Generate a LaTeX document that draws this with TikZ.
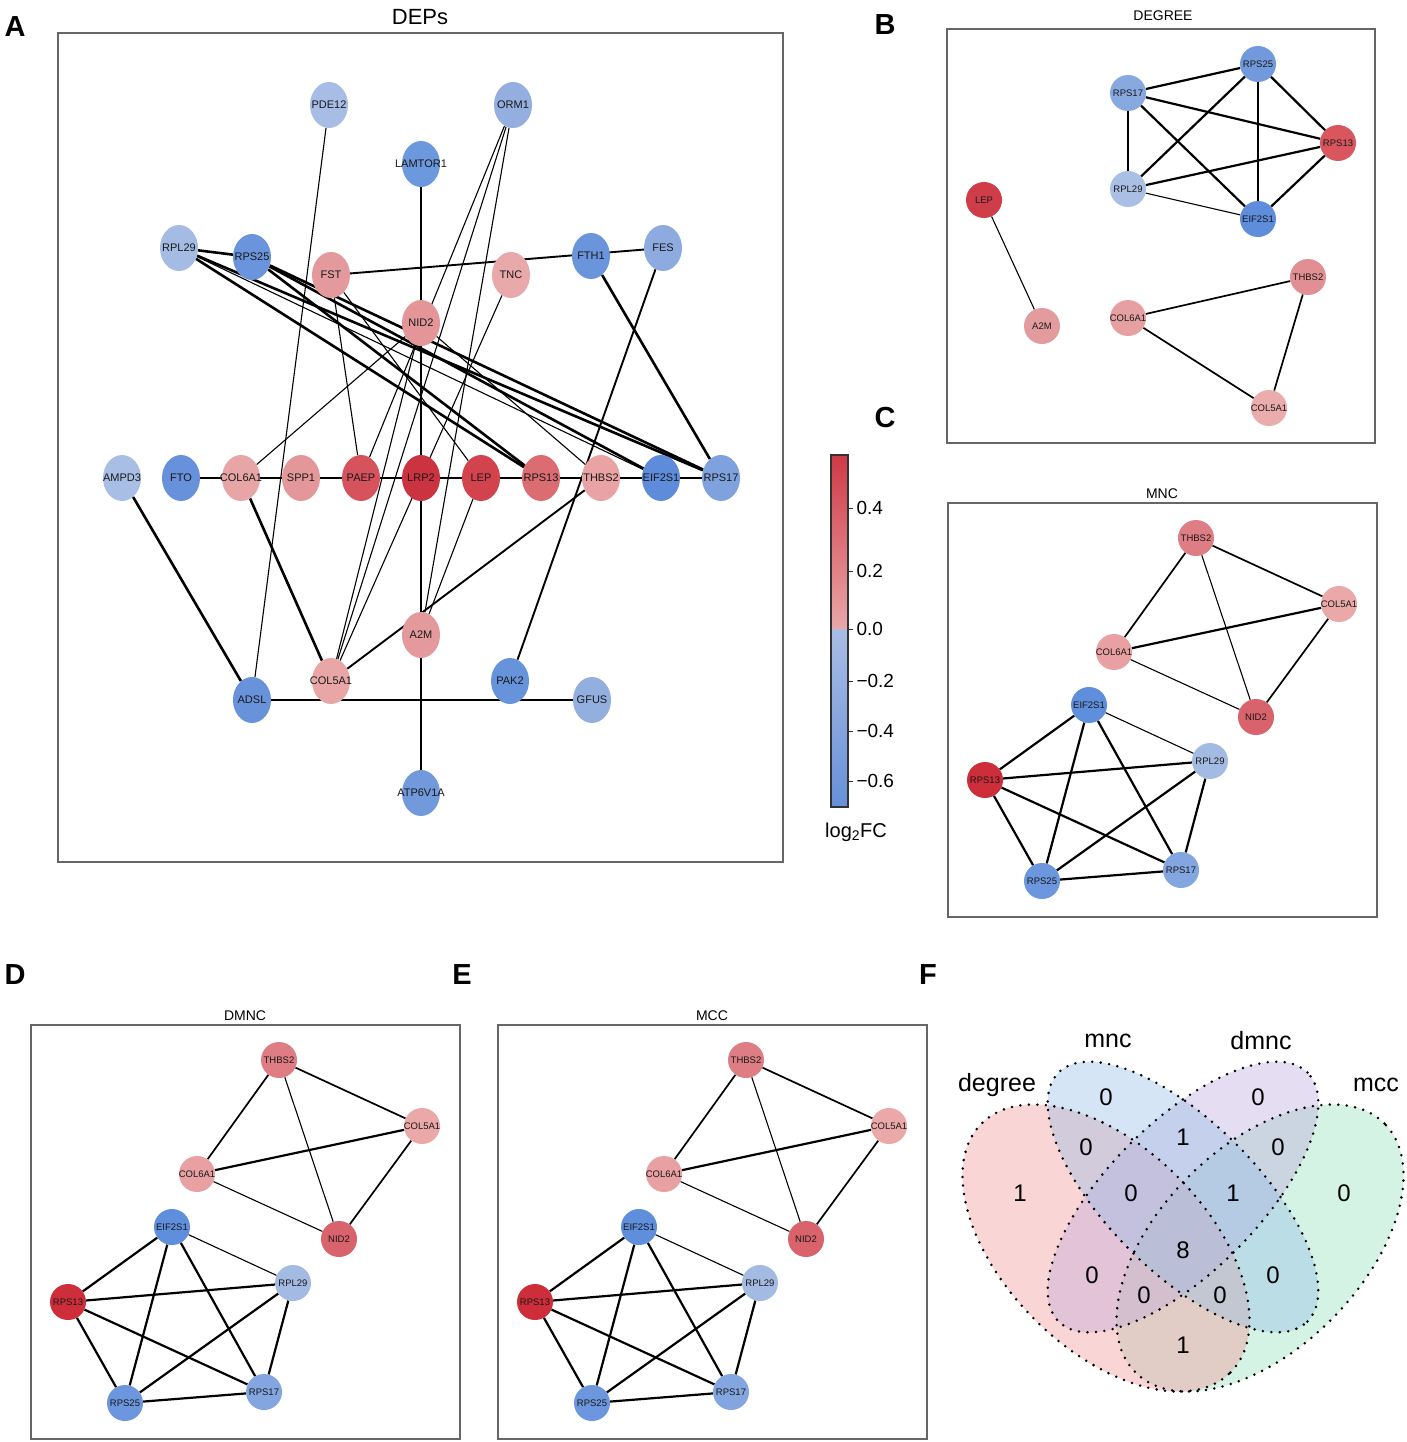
\documentclass[tikz,border=0pt]{standalone}
\usepackage{fontspec}
\setmainfont{Liberation Sans}
\usetikzlibrary{shapes.geometric,backgrounds}
% panel A colours
\definecolor{cPDE}{HTML}{A7BDE5}
\definecolor{cORM}{HTML}{93AEDF}
\definecolor{cLAM}{HTML}{6C98DD}
\definecolor{cRPL}{HTML}{A4BBE3}
\definecolor{cRPSb}{HTML}{6A95DC}
\definecolor{cFST}{HTML}{E49A9D}
\definecolor{cTNC}{HTML}{E9A9AA}
\definecolor{cFTH}{HTML}{6A95DD}
\definecolor{cFES}{HTML}{8EABDF}
\definecolor{cNID}{HTML}{E39598}
\definecolor{cAMP}{HTML}{A9BEE4}
\definecolor{cFTO}{HTML}{6791DA}
\definecolor{cC6}{HTML}{E8A5A6}
\definecolor{cSPP}{HTML}{E49799}
\definecolor{cPAE}{HTML}{D6525C}
\definecolor{cLRP}{HTML}{CC3340}
\definecolor{cLEP}{HTML}{D2434D}
\definecolor{cR13}{HTML}{DA6C72}
\definecolor{cTHB}{HTML}{E9A3A4}
\definecolor{cEIF}{HTML}{5E8CDA}
\definecolor{cR17}{HTML}{7FA2DE}
\definecolor{cA2M}{HTML}{E49A9C}
\definecolor{cC5}{HTML}{E9A6A7}
\definecolor{cADS}{HTML}{6893DB}
\definecolor{cPAK}{HTML}{6793DB}
\definecolor{cGFU}{HTML}{93AFE0}
\definecolor{cATP}{HTML}{7299DC}
% panel B colours
\definecolor{bR25}{HTML}{7199DC}
\definecolor{bR17}{HTML}{88A9E0}
\definecolor{bRPL}{HTML}{A9BFE4}
\definecolor{bEIF}{HTML}{5E8DDB}
\definecolor{bR13}{HTML}{D9565F}
\definecolor{bLEP}{HTML}{CF3E48}
\definecolor{bA2M}{HTML}{E39C9E}
\definecolor{bC6}{HTML}{E6A0A2}
\definecolor{bTHB}{HTML}{E28F93}
\definecolor{bC5}{HTML}{EBACAD}
% panels C-E colours
\definecolor{dR13}{HTML}{CD2E3A}
\definecolor{dEIF}{HTML}{5F8FDC}
\definecolor{dRPL}{HTML}{A3BAE2}
\definecolor{dR17}{HTML}{83A5E0}
\definecolor{dR25}{HTML}{6C96DD}
\definecolor{dNID}{HTML}{D9636C}
\definecolor{dTHB}{HTML}{DE7D83}
\definecolor{dC5}{HTML}{EBA8A9}
\definecolor{dC6}{HTML}{E8A0A2}
% colour bar
\definecolor{cbTop}{HTML}{CF3A46}
\definecolor{cbPink}{HTML}{EAA7A9}
\definecolor{cbLBlue}{HTML}{A9BDE3}
\definecolor{cbBot}{HTML}{6690DA}
% venn
\definecolor{vDeg}{RGB}{243,150,152}
\definecolor{vMnc}{RGB}{150,190,230}
\definecolor{vDmn}{RGB}{190,170,220}
\definecolor{vMcc}{RGB}{150,225,190}

\newcommand\zw[1]{\makebox[0pt]{#1}}

\newcommand\mncnet[4]{%
\begin{scope}[shift={(#2,#3)}]
\draw[panel] (0,0) rectangle (429,414);
\node[ptitle] (#1title) at (214,-9) {#4};
\node[nS,fill=dTHB] (#1THBS2) at (248,35) {\zw{THBS2}};
\node[nS,fill=dC5] (#1COL5A1) at (391,101) {\zw{COL5A1}};
\node[nS,fill=dC6] (#1COL6A1) at (166,149) {\zw{COL6A1}};
\node[nS,fill=dNID] (#1NID2) at (308,214) {\zw{NID2}};
\node[nS,fill=dEIF] (#1EIF2S1) at (141,202) {\zw{EIF2S1}};
\node[nS,fill=dRPL] (#1RPL29) at (262,258) {\zw{RPL29}};
\node[nS,fill=dR13] (#1RPS13) at (37,277) {\zw{RPS13}};
\node[nS,fill=dR17] (#1RPS17) at (233,367) {\zw{RPS17}};
\node[nS,fill=dR25] (#1RPS25) at (94,378) {\zw{RPS25}};
\end{scope}
\begin{scope}[on background layer]
\draw[smd] (#1THBS2) -- (#1COL6A1);
\draw[smd] (#1THBS2) -- (#1COL5A1);
\draw[stn] (#1THBS2) -- (#1NID2);
\draw[stk] (#1COL6A1) -- (#1COL5A1);
\draw[stn] (#1COL6A1) -- (#1NID2);
\draw[smd] (#1COL5A1) -- (#1NID2);
\draw[stk] (#1EIF2S1) -- (#1RPS13);
\draw[stk] (#1EIF2S1) -- (#1RPS25);
\draw[stk] (#1EIF2S1) -- (#1RPS17);
\draw[stn] (#1EIF2S1) -- (#1RPL29);
\draw[stk] (#1RPS13) -- (#1RPL29);
\draw[stk] (#1RPS13) -- (#1RPS25);
\draw[stk] (#1RPS13) -- (#1RPS17);
\draw[stk] (#1RPL29) -- (#1RPS25);
\draw[stk] (#1RPL29) -- (#1RPS17);
\draw[stk] (#1RPS25) -- (#1RPS17);
\end{scope}}

\begin{document}
\begin{tikzpicture}[x=1pt,y=-1pt,
  nA/.style={ellipse,minimum width=38pt,minimum height=46pt,inner sep=0pt,
    text=black!90,font=\fontsize{11}{11}\selectfont},
  nS/.style={circle,minimum size=36pt,inner sep=0pt,text=black!90,
    font=\fontsize{9.5}{9.5}\selectfont},
  tk/.style={line width=2.6pt},
  md/.style={line width=1.9pt},
  tn/.style={line width=1.1pt},
  stk/.style={line width=2.2pt},
  smd/.style={line width=1.7pt},
  stn/.style={line width=1.1pt},
  panel/.style={draw=black!60,line width=1.3pt},
  plabel/.style={font=\fontsize{29}{29}\selectfont\bfseries},
  ptitle/.style={font=\fontsize{14}{14}\selectfont},
  vset/.style={fill opacity=0.4},
  vline/.style={draw=black,line width=2.8pt,line cap=round,dash pattern=on 0pt off 8.5pt},
  vnum/.style={font=\fontsize{24}{24}\selectfont},
  vlab/.style={font=\fontsize{25}{25}\selectfont},
  tick/.style={font=\fontsize{19}{19}\selectfont,anchor=west},
]
\useasboundingbox (0,0) rectangle (1406,1442);
\begin{scope}[on background layer]
\fill[white] (0,0) rectangle (1406,1442);
\end{scope}

% ---------------- panel labels ----------------
\node[plabel] (LA) at (15,27) {A};
\node[plabel] (LB) at (885,25) {B};
\node[plabel] (LC) at (885,418) {C};
\node[plabel] (LD) at (15,975) {D};
\node[plabel] (LE) at (462,975) {E};
\node[plabel] (LF) at (928,975) {F};

% ---------------- panel A ----------------
\draw[panel] (58,33) rectangle (783,862);
\node[font=\fontsize{22}{22}\selectfont] (Atitle) at (420,17) {DEPs};
\node[nA,fill=cPDE] (PDE12) at (329,105) {\zw{PDE12}};
\node[nA,fill=cORM] (ORM1) at (513,105) {\zw{ORM1}};
\node[nA,fill=cLAM] (LAMTOR1) at (421,164) {\zw{LAMTOR1}};
\node[nA,fill=cRPL] (RPL29) at (179,248) {\zw{RPL29}};
\node[nA,fill=cRPSb] (RPS25) at (252,257) {\zw{RPS25}};
\node[nA,fill=cFST] (FST) at (331,275) {\zw{FST}};
\node[nA,fill=cTNC] (TNC) at (511,275) {\zw{TNC}};
\node[nA,fill=cFTH] (FTH1) at (591,256) {\zw{FTH1}};
\node[nA,fill=cFES] (FES) at (663,248) {\zw{FES}};
\node[nA,fill=cNID] (NID2) at (421,323) {\zw{NID2}};
\node[nA,fill=cAMP] (AMPD3) at (122,478) {\zw{AMPD3}};
\node[nA,fill=cFTO] (FTO) at (181,478) {\zw{FTO}};
\node[nA,fill=cC6] (COL6A1) at (241,478) {\zw{COL6A1}};
\node[nA,fill=cSPP] (SPP1) at (301,478) {\zw{SPP1}};
\node[nA,fill=cPAE] (PAEP) at (361,478) {\zw{PAEP}};
\node[nA,fill=cLRP] (LRP2) at (421,478) {\zw{LRP2}};
\node[nA,fill=cLEP] (LEP) at (481,478) {\zw{LEP}};
\node[nA,fill=cR13] (RPS13) at (541,478) {\zw{RPS13}};
\node[nA,fill=cTHB] (THBS2) at (601,478) {\zw{THBS2}};
\node[nA,fill=cEIF] (EIF2S1) at (661,478) {\zw{EIF2S1}};
\node[nA,fill=cR17] (RPS17) at (721,478) {\zw{RPS17}};
\node[nA,fill=cA2M] (A2M) at (421,635) {\zw{A2M}};
\node[nA,fill=cC5] (COL5A1) at (331,681) {\zw{COL5A1}};
\node[nA,fill=cADS] (ADSL) at (252,700) {\zw{ADSL}};
\node[nA,fill=cPAK] (PAK2) at (510,681) {\zw{PAK2}};
\node[nA,fill=cGFU] (GFUS) at (592,700) {\zw{GFUS}};
\node[nA,fill=cATP] (ATP6V1A) at (421,793) {\zw{ATP6V1A}};

\begin{scope}[on background layer]
\draw[tk] (RPL29) -- (RPS25);
\draw[tk] (RPL29) -- (RPS13);
\draw[tn] (RPL29) -- (EIF2S1);
\draw[tk] (RPL29) -- (RPS17);
\draw[tk] (RPS25) -- (RPS13);
\draw[tk] (RPS25) -- (EIF2S1);
\draw[tk] (RPS25) -- (RPS17);
\draw[tk] (FTO) -- (RPS17);
\draw[tk] (LAMTOR1) -- (NID2);
\draw[md] (NID2) -- (LRP2);
\draw[md] (LRP2) -- (A2M);
\draw[tk] (A2M) -- (ATP6V1A);
\draw[tk] (AMPD3) -- (ADSL);
\draw[tk] (COL6A1) -- (COL5A1);
\draw[md] (ADSL) -- (GFUS);
\draw[tk] (FTH1) -- (RPS17);
\draw[md] (FST) -- (FES);
\draw[md] (THBS2) -- (COL5A1);
\draw[tn] (PDE12) -- (ADSL);
\draw[md] (FES) -- (PAK2);
\draw[tn] (ORM1) -- (PAEP);
\draw[tn] (ORM1) -- (COL5A1);
\draw[tn] (ORM1) -- (A2M);
\draw[tn] (TNC) -- (COL5A1);
\draw[tn] (NID2) -- (COL5A1);
\draw[tn] (NID2) -- (COL6A1);
\draw[tn] (NID2) -- (THBS2);
\draw[tn] (FST) -- (PAEP);
\draw[tn] (FST) -- (LEP);
\draw[tn] (LEP) -- (A2M);
\end{scope}

% colour bar
\shade[top color=cbTop,bottom color=cbPink] (831,455) rectangle (848,629);
\shade[top color=cbLBlue,bottom color=cbBot] (831,629) rectangle (848,807);
\draw[black!80,line width=1.1pt] (831,455) rectangle (848,807);
\foreach \yy/\lab in {508/0.4,571/0.2,629/0.0,681/−0.2,731/−0.4,781/−0.6}{
  \draw[black!80,line width=1pt] (848,\yy) -- (853,\yy);
  \node[tick] at (853,\yy) {\lab};
}
\node[font=\fontsize{20}{20}\selectfont] (cblab) at (856,832) {log\textsubscript{2}FC};

% ---------------- panel B ----------------
\draw[panel] (947,29) rectangle (1375,443);
\node[ptitle] (Btitle) at (1163,16) {DEGREE};
\node[nS,fill=bR25] (bRPS25) at (1258,64) {\zw{RPS25}};
\node[nS,fill=bR17] (bRPS17) at (1128,93) {\zw{RPS17}};
\node[nS,fill=bR13] (bRPS13) at (1338,143) {\zw{RPS13}};
\node[nS,fill=bRPL] (bRPL29) at (1128,189) {\zw{RPL29}};
\node[nS,fill=bEIF] (bEIF2S1) at (1258,219) {\zw{EIF2S1}};
\node[nS,fill=bLEP] (bLEP) at (984,200) {\zw{LEP}};
\node[nS,fill=bA2M] (bA2M) at (1042,326) {\zw{A2M}};
\node[nS,fill=bC6] (bCOL6A1) at (1128,318) {\zw{COL6A1}};
\node[nS,fill=bTHB] (bTHBS2) at (1308,277) {\zw{THBS2}};
\node[nS,fill=bC5] (bCOL5A1) at (1269,408) {\zw{COL5A1}};
\begin{scope}[on background layer]
\draw[stk] (bRPS17) -- (bRPS25);
\draw[stk] (bRPS17) -- (bRPS13);
\draw[stk] (bRPS17) -- (bRPL29);
\draw[stk] (bRPS17) -- (bEIF2S1);
\draw[stk] (bRPS25) -- (bRPL29);
\draw[stk] (bRPS25) -- (bEIF2S1);
\draw[stk] (bRPS25) -- (bRPS13);
\draw[stk] (bRPL29) -- (bRPS13);
\draw[stn] (bRPL29) -- (bEIF2S1);
\draw[stk] (bRPS13) -- (bEIF2S1);
\draw[stn] (bLEP) -- (bA2M);
\draw[smd] (bCOL6A1) -- (bTHBS2);
\draw[smd] (bCOL6A1) -- (bCOL5A1);
\draw[smd] (bTHBS2) -- (bCOL5A1);
\end{scope}

% ---------------- panels C, D, E ----------------
\mncnet{c}{948}{503}{MNC}
\mncnet{d}{31}{1025}{DMNC}
\mncnet{e}{498}{1025}{MCC}

% ---------------- panel F ----------------
\fill[vMcc,vset,rotate around={45:(1260,1248)}] (1260,1248) ellipse [x radius=176pt,y radius=101pt];
\fill[vDeg,vset,rotate around={-45:(1106,1248)}] (1106,1248) ellipse [x radius=176pt,y radius=101pt];
\fill[vDmn,vset,rotate around={45:(1183,1197)}] (1183,1197) ellipse [x radius=176pt,y radius=75pt];
\fill[vMnc,vset,rotate around={-45:(1183,1197)}] (1183,1197) ellipse [x radius=176pt,y radius=75pt];
\draw[vline,rotate around={-45:(1106,1248)}] (1106,1248) ellipse [x radius=176pt,y radius=101pt];
\draw[vline,rotate around={-45:(1183,1197)}] (1183,1197) ellipse [x radius=176pt,y radius=75pt];
\draw[vline,rotate around={45:(1183,1197)}] (1183,1197) ellipse [x radius=176pt,y radius=75pt];
\draw[vline,rotate around={45:(1260,1248)}] (1260,1248) ellipse [x radius=176pt,y radius=101pt];
\node[vlab] (vdeg) at (997,1085) {degree};
\node[vlab] (vmnc) at (1108,1041) {mnc};
\node[vlab] (vdmn) at (1261,1041) {dmnc};
\node[vlab] (vmcc) at (1376,1085) {mcc};
\foreach \px/\py/\n in {1020/1193/1,1106/1097/0,1258/1097/0,1344/1193/0,1086/1147/0,1183/1137/1,1278/1147/0,1131/1193/0,1233/1193/1,1183/1250/8,1092/1275/0,1144/1295/0,1220/1295/0,1273/1275/0,1183/1345/1}{
  \node[vnum] at (\px,\py) {\n};
}
\end{tikzpicture}
\end{document}
